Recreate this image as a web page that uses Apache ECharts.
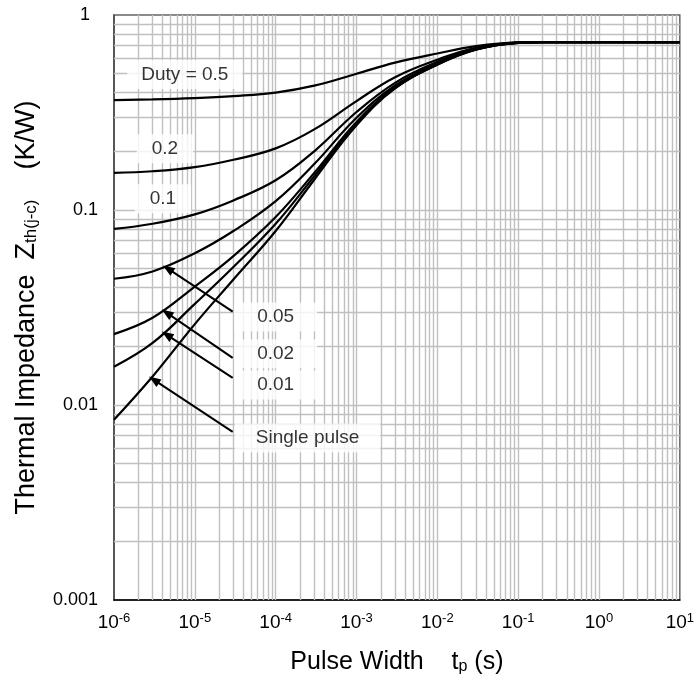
<!DOCTYPE html>
<html><head><meta charset="utf-8">
<script src="https://cdn.jsdelivr.net/npm/echarts@6/dist/echarts.min.js"></script>
<style>html,body{margin:0;padding:0;background:#fff}#c{width:697px;height:688px}</style>
</head><body><div id="c"></div>
<script>
// ---- data ----
const pulseWidth = [1e-6, 3e-6, 1e-5, 3e-5, 1e-4, 3e-4, 1e-3, 3e-3, 1e-2, 3e-2, 1e-1, 2e-1, 1, 10];
const zDuty05  = [0.366, 0.369, 0.375, 0.384, 0.400, 0.434, 0.500, 0.570, 0.635, 0.692, 0.723, 0.725, 0.725, 0.725];
const zDuty02  = [0.155, 0.158, 0.166, 0.181, 0.207, 0.259, 0.362, 0.480, 0.590, 0.679, 0.722, 0.725, 0.725, 0.725];
const zDuty01  = [0.080, 0.085, 0.095, 0.112, 0.142, 0.200, 0.318, 0.449, 0.575, 0.672, 0.721, 0.725, 0.725, 0.725];
const zDuty005 = [0.0444, 0.0484, 0.060, 0.078, 0.111, 0.172, 0.297, 0.435, 0.566, 0.668, 0.721, 0.725, 0.725, 0.725];
const zDuty002 = [0.0231, 0.028, 0.0405, 0.058, 0.092, 0.155, 0.283, 0.426, 0.560, 0.666, 0.720, 0.725, 0.725, 0.725];
const zDuty001 = [0.0157, 0.0208, 0.033, 0.051, 0.085, 0.149, 0.277, 0.423, 0.558, 0.665, 0.720, 0.725, 0.725, 0.725];
const zSingle  = [0.0084, 0.0140, 0.026, 0.044, 0.078, 0.143, 0.272, 0.420, 0.556, 0.664, 0.720, 0.725, 0.725, 0.725];

const xTickExponents = ['-6', '-5', '-4', '-3', '-2', '-1', '0', '1'];
const yTickLabels = ['0.001', '0.01', '0.1', '1'];

// annotation labels: text, x, y (data coordinates)
const labelTexts = ['Duty = 0.5', '0.2', '0.1', '0.05', '0.02', '0.01', 'Single pulse'];
const labelX = [7.53e-6, 4.27e-6, 4.03e-6, 1.0e-4, 1.0e-4, 1.0e-4, 2.48e-4];
const labelY = [0.495, 0.2064, 0.1143, 0.0283, 0.01829, 0.01268, 0.00678];

// arrows: from (start) to (tip), data coordinates
const arrowStartX = [2.94e-5, 2.94e-5, 2.94e-5, 2.94e-5];
const arrowStartY = [0.0301, 0.01746, 0.01377, 0.00728];
const arrowTipX = [4.64e-6, 4.5e-6, 4.5e-6, 3.12e-6];
const arrowTipY = [0.0500, 0.0297, 0.0229, 0.01345];

// interior gridline values (1..9 per decade)
const xGridValues = [];
for (let e = -6; e <= 0; e++) for (let k = 1; k <= 9; k++) if (!(e === -6 && k === 1)) xGridValues.push(k * Math.pow(10, e));
const yGridValues = [];
for (let e = -3; e <= -1; e++) for (let k = 1; k <= 9; k++) if (!(e === -3 && k === 1)) yGridValues.push(k * Math.pow(10, e));

// ---- chart ----
const FONT = 'Liberation Sans, Arial, sans-serif';
const chart = echarts.init(document.getElementById('c'), null, {renderer: 'canvas'});
const curves = [zDuty05, zDuty02, zDuty01, zDuty005, zDuty002, zDuty001, zSingle];
const curveSeries = curves.map((arr) => ({
  type: 'line', z: 5, smooth: 0.4, showSymbol: false, symbol: 'none', silent: true,
  lineStyle: {color: '#000', width: 2.2},
  data: pulseWidth.map((x, j) => [x, arr[j]])
}));

const labelPadding = [[5, 14], [5, 15], [5, 15], [5, 23], [5, 23], [5, 23], [5, 21]];

const option = {
  animation: false,
  backgroundColor: '#fff',
  grid: {left: 114, right: 16, top: 15, bottom: 88, show: true, borderColor: '#666', borderWidth: 1.5, backgroundColor: 'transparent'},
  xAxis: {
    type: 'log', logBase: 10, min: 1e-6, max: 10,
    axisLine: {show: true, lineStyle: {color: '#000', width: 1.5}},
    axisTick: {show: false},
    splitLine: {show: false},
    axisLabel: {
      margin: 12, color: '#000',
      formatter: v => '{b|10}{s|' + xTickExponents[Math.round(Math.log10(v)) + 6] + '}',
      rich: {
        b: {fontSize: 19, fontFamily: FONT, color: '#000'},
        s: {fontSize: 13, fontFamily: FONT, color: '#000', verticalAlign: 'top', padding: [0, 0, 8, 0]}
      }
    },
    name: 'Pulse Width    {i|t}{sub|p} (s)',
    nameLocation: 'middle', nameGap: 50,
    nameTextStyle: {
      fontSize: 25, fontFamily: FONT, color: '#000',
      rich: {
        i: {fontSize: 25, fontFamily: FONT, color: '#000'},
        sub: {fontSize: 16, fontFamily: FONT, color: '#000', verticalAlign: 'bottom', padding: [8, 0, 0, 0]}
      }
    }
  },
  yAxis: {
    type: 'log', logBase: 10, min: 0.001, max: 1,
    axisLine: {show: true, lineStyle: {color: '#444', width: 1.5}},
    axisTick: {show: false},
    splitLine: {show: false},
    axisLabel: {
      margin: 16, color: '#000', fontSize: 18, fontFamily: FONT,
      formatter: v => {
        const idx = Math.round(Math.log10(v)) + 3;
        const t = yTickLabels[idx];
        return idx === 3 ? '{one|' + t + '}' : t;
      },
      rich: {one: {fontSize: 18, fontFamily: FONT, color: '#000', padding: [0, 8, 0, 0]}}
    },
    name: 'Thermal Impedance  Z{sub|th(j-c)}    (K/W)',
    nameLocation: 'middle', nameRotate: 90, nameGap: 74,
    nameTextStyle: {
      fontSize: 27, fontFamily: FONT, color: '#000',
      rich: {
        sub: {fontSize: 17, fontFamily: FONT, color: '#000', verticalAlign: 'bottom', padding: [9, 0, 0, 0]}
      }
    }
  },
  series: [
    {
      type: 'line', z: 1, silent: true, data: [], symbol: 'none',
      markLine: {
        z: 1, silent: true, symbol: ['none', 'none'], animation: false, precision: 12,
        label: {show: false},
        lineStyle: {color: '#c0c0c0', width: 1.4, type: 'solid'},
        emphasis: {disabled: true},
        data: xGridValues.map(v => ({xAxis: v})).concat(yGridValues.map(v => ({yAxis: v})))
      }
    },
    {
      type: 'scatter', z: 3, silent: true, symbolSize: 0,
      data: labelTexts.map((t, i) => ({
        value: [labelX[i], labelY[i]],
        label: {padding: labelPadding[i]}
      })),
      label: {
        show: true, position: 'inside', color: '#000', fontSize: 19, fontFamily: FONT,
        backgroundColor: '#fff',
        formatter: p => labelTexts[p.dataIndex]
      }
    },
    ...curveSeries,
    {
      type: 'line', z: 6, silent: true, data: [], symbol: 'none',
      markLine: {
        z: 6, silent: true, symbol: ['none', 'triangle'], symbolSize: [9, 12], animation: false, precision: 12,
        label: {show: false},
        lineStyle: {color: '#000', width: 2, type: 'solid'},
        itemStyle: {color: '#000'},
        emphasis: {disabled: true},
        data: arrowStartX.map((x, i) => [
          {coord: [x, arrowStartY[i]]},
          {coord: [arrowTipX[i], arrowTipY[i]]}
        ])
      }
    }
  ]
};
chart.setOption(option);
</script>
</body></html>
